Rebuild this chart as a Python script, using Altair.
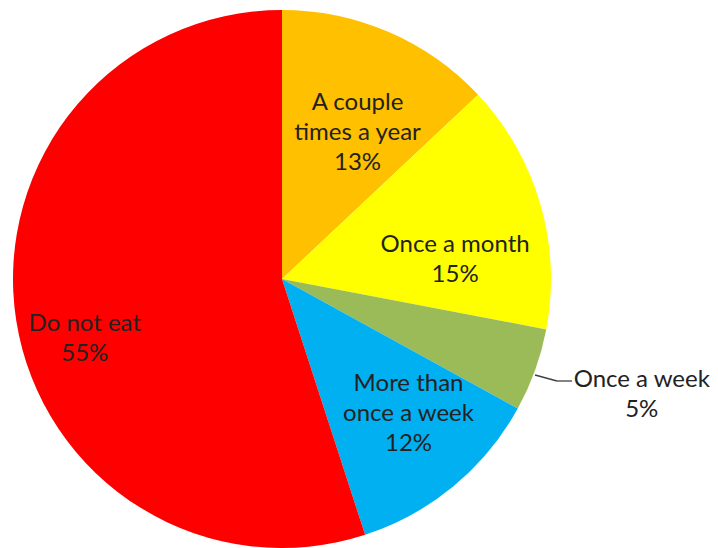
import altair as alt
import pandas as pd

categories = ["A couple times a year", "Once a month", "Once a week",
              "More than once a week", "Do not eat"]
labels = ["A couple\ntimes a year\n13%", "Once a month\n15%", "Once a week\n5%",
          "More than\nonce a week\n12%", "Do not eat\n55%"]
values = [13, 15, 5, 12, 55]
colors = ["#FFC000", "#FFFF00", "#9BBB59", "#00B0F0", "#FF0000"]

df = pd.DataFrame({"category": categories, "label": labels, "value": values,
                   "idx": list(range(len(categories)))})

CX, CY, R = 274, 271, 269
theta_scale = alt.Scale(domain=[0, sum(values)])

base = alt.Chart(df).transform_window(
    cum="sum(value)", sort=[alt.SortField("idx")]
).transform_calculate(
    start="datum.cum - datum.value", mid="datum.cum - datum.value / 2"
).encode(x=alt.value(CX), y=alt.value(CY))

pie = base.mark_arc(outerRadius=R).encode(
    theta=alt.Theta("start:Q", scale=theta_scale),
    theta2="cum:Q",
    color=alt.Color("category:N", scale=alt.Scale(domain=categories, range=colors), legend=None),
)

# label placement: (radius, dx, dy)
place = {
    "A couple times a year": (165, 10, -25),
    "Once a month": (174, 6, 15),
    "Once a week": (393, -10, -32),
    "More than once a week": (186, 8, -38),
    "Do not eat": (226, 26, 10),
}

layers = [pie]
for cat in categories:
    r, dx, dy = place[cat]
    layers.append(
        base.transform_filter(alt.datum.category == cat)
        .mark_text(radius=r, dx=dx, dy=dy, font="Lato", fontSize=24, lineHeight=30,
                   lineBreak="\n", align="center", baseline="middle", color="#222222")
        .encode(theta=alt.Theta("mid:Q", scale=theta_scale), text="label:N")
    )

leader1 = alt.Chart(df.head(1)).mark_rule(color="#404040", strokeWidth=1.3).encode(
    x=alt.value(527), y=alt.value(367), x2=alt.value(549), y2=alt.value(373))
leader2 = alt.Chart(df.head(1)).mark_rule(color="#404040", strokeWidth=1.3).encode(
    x=alt.value(549), y=alt.value(373), x2=alt.value(564), y2=alt.value(373))
layers += [leader1, leader2]

chart = alt.layer(*layers).properties(
    width=702, height=540, autosize=alt.AutoSizeParams(type="none"), padding=0
).configure_view(stroke=None)

chart.save("out.html", embed_options={"renderer": "svg", "actions": False})
